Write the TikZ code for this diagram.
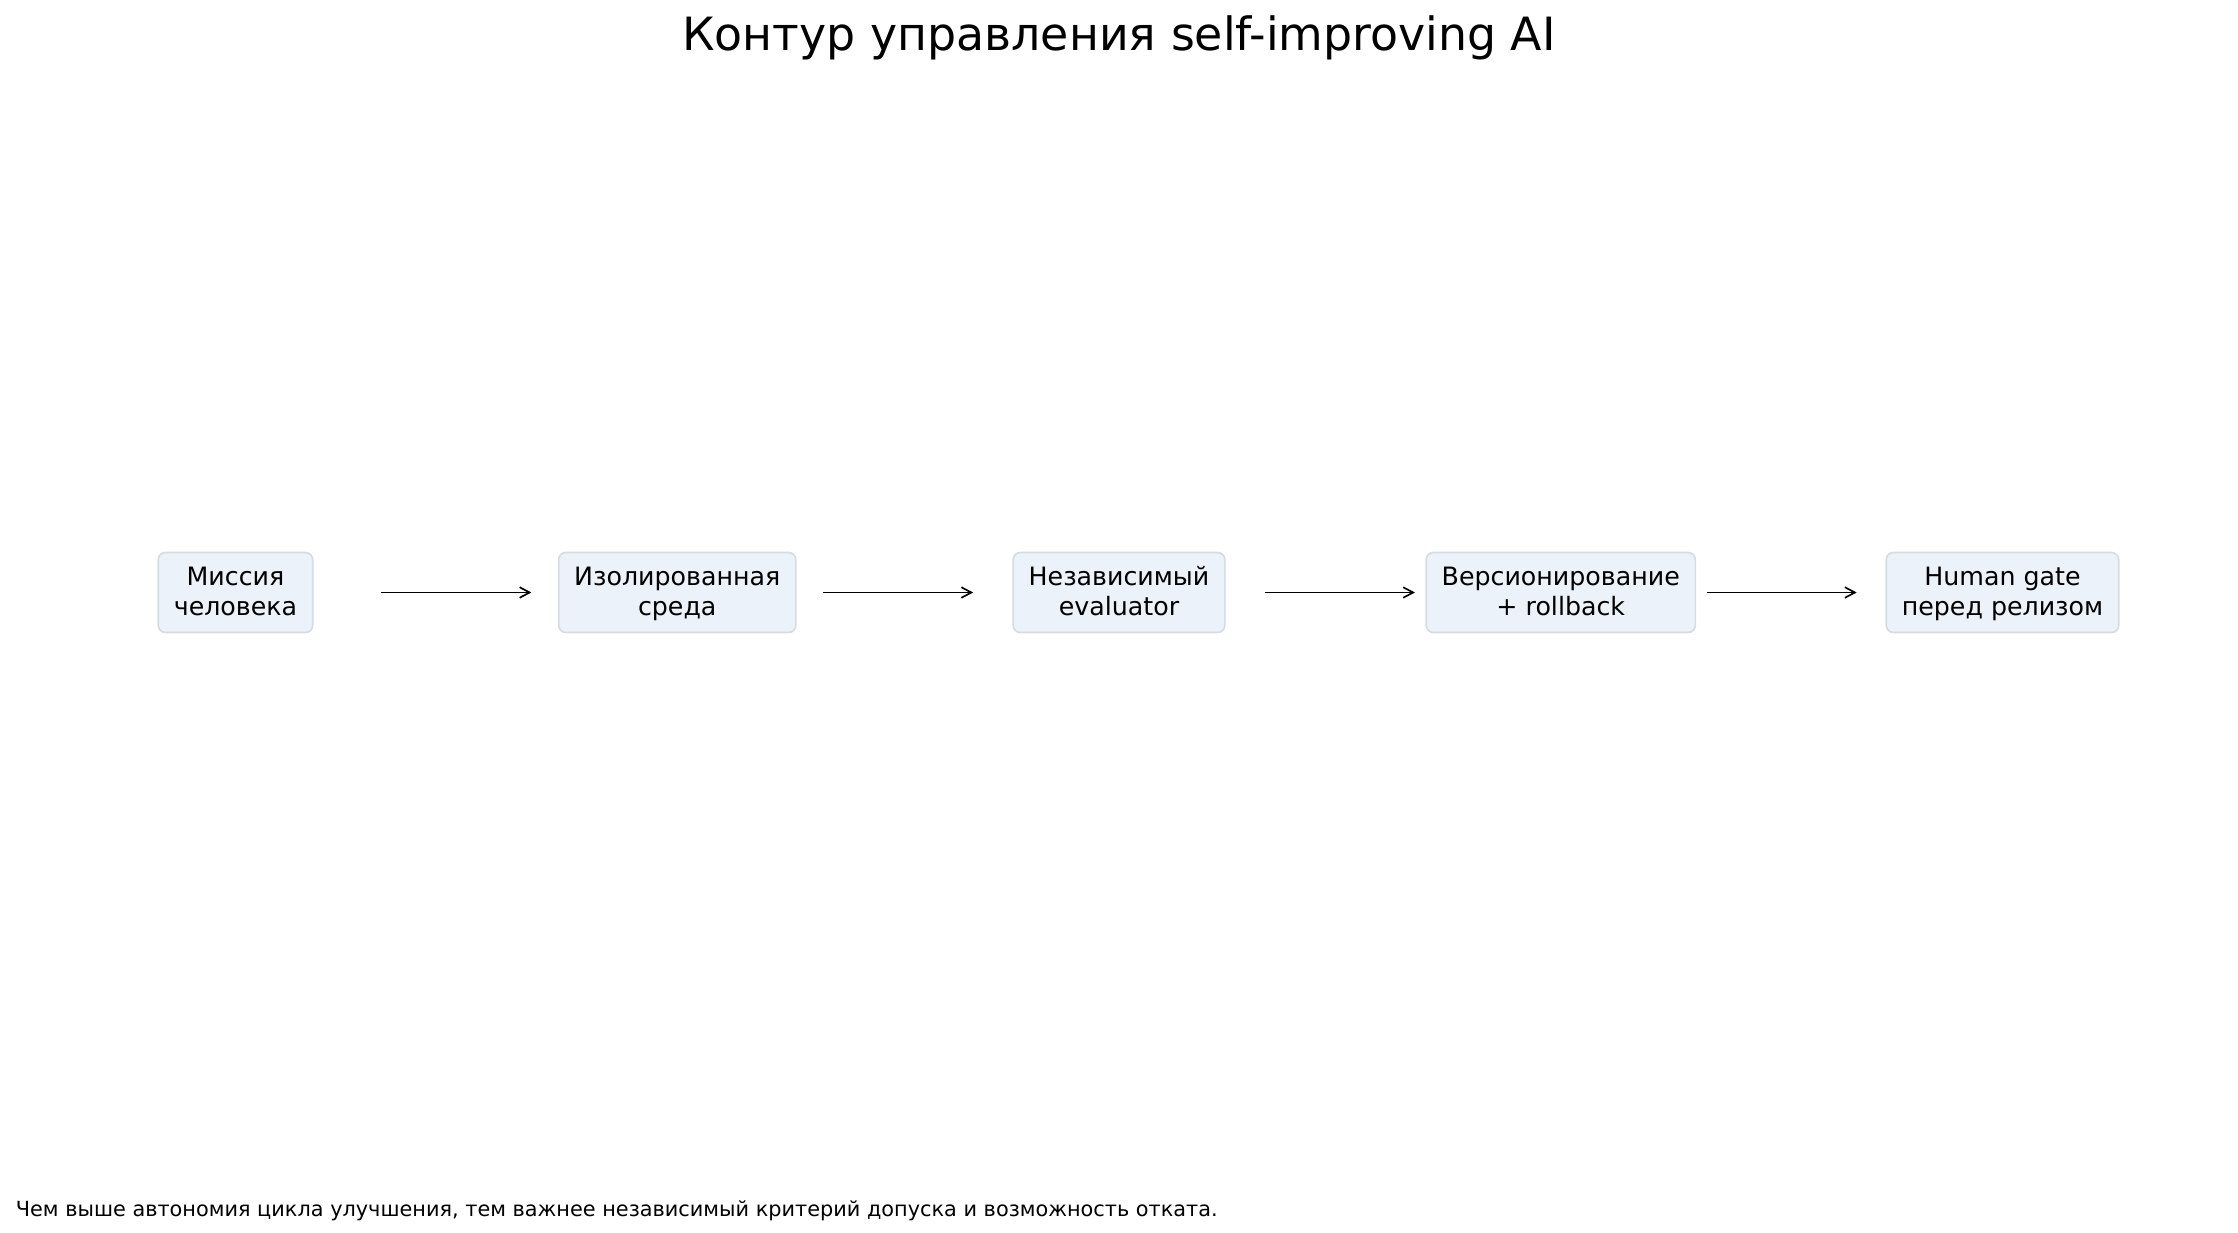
\documentclass[tikz,border=0pt]{standalone}
\usepackage{fontspec}
\setmainfont{DejaVu Sans}
\usetikzlibrary{arrows.meta,calc}
\definecolor{boxfill}{RGB}{235,242,249}
\definecolor{boxedge}{RGB}{214,220,226}
\newcommand{\stagetop}{\rule{0pt}{8.4pt}}
\newcommand{\stagebot}{\rule[-2.6pt]{0pt}{2.6pt}}
\tikzset{
    stage/.style={draw=boxedge, fill=boxfill, line width=0.6pt, rounded corners=2.6pt,
        align=center, inner xsep=5.6pt, inner ysep=3.5pt,
        font=\fontsize{9.1}{10.8}\selectfont},
    flow/.style={line width=0.6pt, -{Straight Barb[length=3.6pt,width=3.8pt]},
        shorten <=52.5pt, shorten >=52.5pt},
}
\begin{document}
\begin{tikzpicture}[x=0.36pt, y=-0.36pt]
        \pgfmathsetmacro{\d}{441.75};
        \useasboundingbox (0,0) rectangle (2238,1233);
        \node [anchor=base, inner sep=0, font=\fontsize{16.5}{19}\selectfont] (title) at (1119, 50.7) {Контур управления self-improving AI};
        \node [stage] (mission) at (235.5, 592.5) {\stagetop Миссия\\человека\stagebot};
        \node [stage] (sandbox) at (235.5+\d, 592.5) {\stagetop Изолированная\\среда\stagebot};
        \node [stage] (evaluator) at (235.5+2*\d, 592.5) {\stagetop Независимый\\evaluator\stagebot};
        \node [stage] (versioning) at (235.5+3*\d, 592.5) {\stagetop Версионирование\\+ rollback\stagebot};
        \node [stage] (gate) at (235.5+4*\d, 592.5) {\stagetop Human gate\\перед релизом\stagebot};
        \draw [flow] (mission.center) -- (sandbox.center);
        \draw [flow] (sandbox.center) -- (evaluator.center);
        \draw [flow] (evaluator.center) -- (versioning.center);
        \draw [flow] (versioning.center) -- (gate.center);
        \node [anchor=base west, inner sep=0, font=\fontsize{7.5}{9}\selectfont] (note) at (15.3, 1216) {Чем выше автономия цикла улучшения, тем важнее независимый критерий допуска и возможность отката.};
    \end{tikzpicture}
\end{document}
